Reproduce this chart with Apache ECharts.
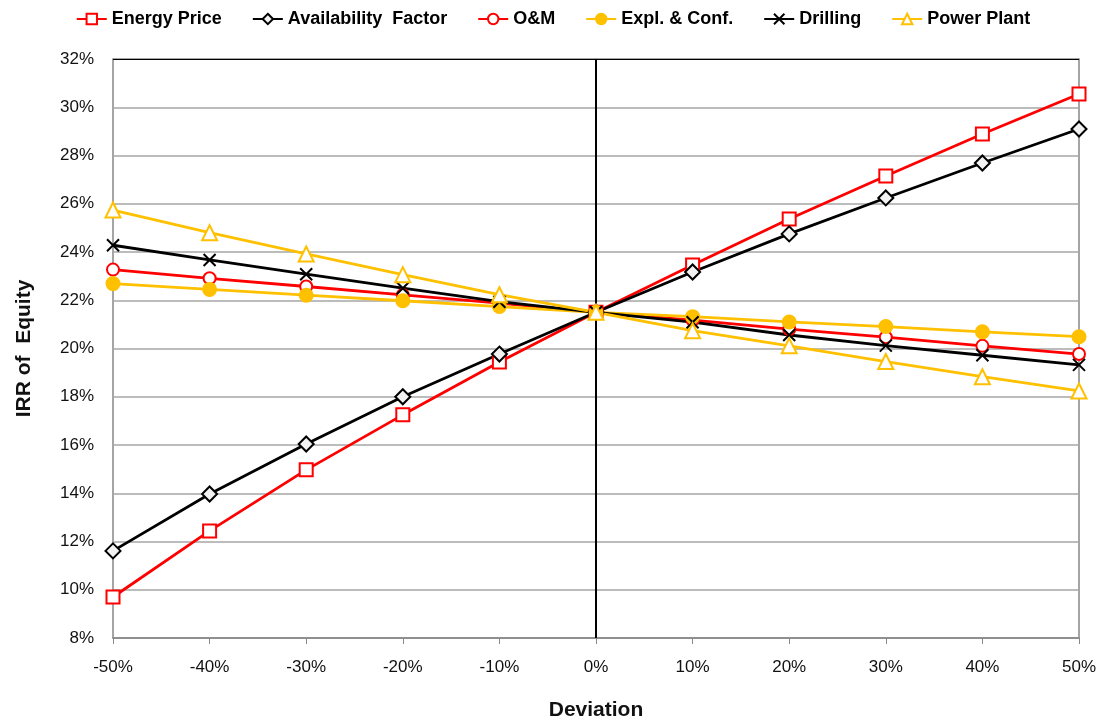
<!DOCTYPE html>
<html>
<head>
<meta charset="utf-8">
<script src="https://cdn.jsdelivr.net/npm/echarts@6/dist/echarts.min.js"></script>
<style>html,body{margin:0;padding:0;background:#fff}#c{width:1106px;height:722px}</style>
</head>
<body>
<div id="c"></div>
<script>
const deviations = [-50, -40, -30, -20, -10, 0, 10, 20, 30, 40, 50];
const energyPrice = [9.70, 12.44, 14.97, 17.25, 19.44, 21.5, 23.46, 25.37, 27.15, 28.89, 30.55];
const availability = [11.61, 13.97, 16.04, 18.0, 19.77, 21.5, 23.17, 24.75, 26.24, 27.69, 29.10];
const om = [23.27, 22.91, 22.57, 22.22, 21.88, 21.5, 21.18, 20.80, 20.47, 20.11, 19.77];
const explConf = [22.69, 22.45, 22.21, 21.98, 21.74, 21.5, 21.32, 21.10, 20.91, 20.69, 20.49];
const drilling = [24.28, 23.67, 23.08, 22.50, 21.94, 21.5, 21.09, 20.56, 20.12, 19.72, 19.32];
const powerPlant = [25.74, 24.80, 23.92, 23.06, 22.23, 21.5, 20.74, 20.11, 19.46, 18.83, 18.24];
const seriesNames = ['Energy Price', 'Availability  Factor', 'O&M', 'Expl. & Conf.', 'Drilling', 'Power Plant'];

const pairs = arr => arr.map((v, i) => [deviations[i], v]);
const RED = '#FF0000', GOLD = '#FFC000', BLACK = '#000000';
const xPath = 'path://M0,0L10,10M10,0L0,10';

function mk(name, data, color, symbol, fill, size) {
  return {
    name, type: 'line', data: pairs(data), symbol, symbolSize: size,
    lineStyle: { color, width: 2.8 },
    itemStyle: { color: fill, borderColor: color, borderWidth: 2 },
    emphasis: { disabled: true }, z: 3
  };
}

const series = [
  mk(seriesNames[0], energyPrice, RED, 'rect', '#fff', 13),
  mk(seriesNames[1], availability, BLACK, 'diamond', '#f2f2f2', 15),
  mk(seriesNames[2], om, RED, 'circle', '#fff', 12),
  mk(seriesNames[3], explConf, GOLD, 'circle', GOLD, 13),
  mk(seriesNames[4], drilling, BLACK, xPath, 'none', 12),
  mk(seriesNames[5], powerPlant, GOLD, 'triangle', '#fff', 15)
];
series[0].markLine = {
  silent: true, symbol: 'none', label: { show: false },
  lineStyle: { color: '#000', width: 2, type: 'solid' },
  data: [{ xAxis: 0 }, { yAxis: 32, lineStyle: { width: 1.2 } }], z: 2
};

const chart = echarts.init(document.getElementById('c'));
chart.setOption({
  backgroundColor: '#fff',
  animation: false,
  textStyle: { fontFamily: 'Liberation Sans, Arial, sans-serif' },
  legend: {
    top: 5, left: 'center', itemGap: 30, itemWidth: 30, itemHeight: 13,
    textStyle: { fontSize: 18, fontWeight: 'bold', color: '#000' },
    data: seriesNames
  },
  grid: { left: 113, right: 27, top: 59, bottom: 84, show: true, borderColor: '#888', borderWidth: 1.5,
          containLabel: false, outerBoundsMode: 'none' },
  xAxis: {
    type: 'value', min: -50, max: 50, interval: 10,
    name: 'Deviation', nameLocation: 'middle', nameGap: 62,
    nameTextStyle: { fontSize: 21, fontWeight: 'bold', color: '#111' },
    axisLine: { show: true, lineStyle: { color: '#888', width: 1.5 }, onZero: false },
    axisTick: { show: true, length: 6, lineStyle: { color: '#888' } },
    axisLabel: { formatter: '{value}%', fontSize: 17, color: '#111', margin: 21 },
    splitLine: { show: false }
  },
  yAxis: {
    type: 'value', min: 8, max: 32, interval: 2,
    name: 'IRR of  Equity', nameLocation: 'middle', nameGap: 78, nameRotate: 90,
    nameTextStyle: { fontSize: 21, fontWeight: 'bold', color: '#111' },
    axisLine: { show: true, lineStyle: { color: '#888', width: 1.5 } },
    axisTick: { show: false },
    axisLabel: { formatter: '{value}%', fontSize: 17, color: '#111', margin: 19 },
    splitLine: { show: true, lineStyle: { color: '#a6a6a6', width: 1.5 } }
  },
  series
});
</script>
</body>
</html>
